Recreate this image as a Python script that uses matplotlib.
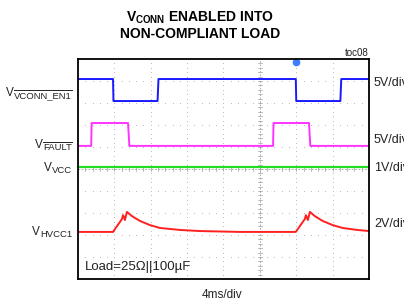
import matplotlib
matplotlib.use("Agg")
import matplotlib.pyplot as plt
import numpy as np

plt.rcParams['font.family'] = ['Liberation Sans', 'DejaVu Sans']
plt.rcParams['mathtext.fontset'] = 'custom'
plt.rcParams['mathtext.rm'] = 'Liberation Sans'
plt.rcParams['mathtext.it'] = 'Liberation Sans'
plt.rcParams['mathtext.bf'] = 'Liberation Sans:bold'

# ---- data (time in ms, levels in screen divisions) ----
en1_t = [0, 3.85, 3.9, 8.75, 8.85, 23.95, 24.0, 28.85, 28.95, 32]
en1_v = [9.09, 9.09, 8.09, 8.09, 9.09, 9.09, 8.09, 8.09, 9.09, 9.09]

fault_t = [0, 1.45, 1.5, 5.5, 5.65, 21.45, 21.5, 25.4, 25.55, 32]
fault_v = [6.05, 6.05, 7.09, 7.09, 6.05, 6.05, 7.09, 7.09, 6.05, 6.05]

vcc_t = [0, 32]
vcc_v = [5.09, 5.09]

hvcc_t = [0, 3.85, 4.84, 4.95, 5.05, 5.16, 5.38, 5.93, 6.81, 7.91, 9.01, 11.2, 13.4, 17.8,
          23.95, 24.95, 25.05, 25.15, 25.28, 25.5, 26.04, 26.9, 28.0, 29.1, 30.7, 32]
hvcc_v = [2.14, 2.14, 2.73, 2.9, 2.82, 2.68, 3.05, 2.86, 2.64, 2.45, 2.32, 2.23, 2.18, 2.14,
          2.14, 2.73, 2.9, 2.82, 2.68, 3.05, 2.86, 2.64, 2.45, 2.32, 2.23, 2.18]

signal_subs = ["VCONN_EN1", "FAULT", "VCC", "HVCC1"]
signal_overline = [True, True, False, False]
scales = ["5V/div", "5V/div", "1V/div", "2V/div"]

W, H = 404, 307
fig = plt.figure(figsize=(4.04, 3.07), dpi=100)
ax = fig.add_axes([78/W, 28/H, 291/W, 220/H])
ax.set_xlim(0, 32)
ax.set_ylim(0, 10)
ax.set_xticks([])
ax.set_yticks([])
for s in ax.spines.values():
    s.set_linewidth(1.3)
    s.set_color('black')

grid_c = '#bdbdbd'
for i in range(1, 8):
    if i == 5:
        continue
    ys = np.arange(0.2, 10, 0.2)
    ax.plot([i * 4] * len(ys), ys, ls='none', marker='s', ms=0.7, color=grid_c, mew=0)
for j in range(1, 10):
    if j == 5:
        continue
    xs = np.arange(0.8, 32, 0.8)
    ax.plot(xs, [j] * len(xs), ls='none', marker='s', ms=0.7, color=grid_c, mew=0)
ax.axvline(20, color='#a0a0a0', lw=0.6, ls=(0, (2, 2)))
ax.axhline(5, color='#a0a0a0', lw=0.6, ls=(0, (2, 2)))
for yy in np.arange(0.2, 10, 0.2):
    ax.plot([19.75, 20.25], [yy, yy], color='#a0a0a0', lw=0.5)
for xx in np.arange(0.8, 32, 0.8):
    ax.plot([xx, xx], [4.92, 5.08], color='#a0a0a0', lw=0.5)

ax.plot(en1_t, en1_v, color='#1a1aff', lw=1.4)
ax.plot(fault_t, fault_v, color='#ff33ff', lw=1.4)
ax.plot(vcc_t, vcc_v, color='#22dd22', lw=1.6)
ax.plot(hvcc_t, hvcc_v, color='#ff2020', lw=1.4)

ax.plot([23.95], [9.85], marker='o', ms=4.5, color='#3a7fff', clip_on=False)

# left labels: "V" + subscript (optionally overlined), right-aligned at x=72
renderer = fig.canvas.get_renderer()
label_base = [96, 148, 171, 235]
for sub, ovl, yb in zip(signal_subs, signal_overline, label_base):
    ts = fig.text(72/W, 1 - (yb + 2)/H, sub, ha='right', va='baseline', fontsize=6.8,
                  color='#222222')
    bb = ts.get_window_extent(renderer)
    fig.text(bb.x0/W, 1 - yb/H, 'V', ha='right', va='baseline', fontsize=8.5,
             color='#222222')
    if ovl:
        yo = 1 - (yb - 6.5)/H
        fig.add_artist(plt.Line2D([bb.x0/W, bb.x1/W], [yo, yo], transform=fig.transFigure,
                                  color='#222222', lw=0.7))

for sc, yp in zip(scales, [83, 140, 168, 224]):
    fig.text(374/W, 1 - yp/H, sc, ha='left', va='center', fontsize=9, color='#222222')

fig.text(200/W, 1 - 18/H, r'V$_{\mathbf{CONN}}$ ENABLED INTO', ha='center', va='center',
         fontsize=10, fontweight='bold')
fig.text(200/W, 1 - 34/H, 'NON-COMPLIANT LOAD', ha='center', va='center',
         fontsize=10, fontweight='bold')

fig.text(369/W, 1 - 53/H, 'toc08', ha='right', va='center', fontsize=7, color='#222222')
fig.text(222/W, 1 - 295/H, '4ms/div', ha='center', va='center', fontsize=8.5,
         color='#222222')
fig.text(85/W, 1 - 267/H, 'Load=25Ω||100µF', ha='left', va='center', fontsize=9.5,
         color='#222222')

fig.savefig('out.png', dpi=100)
